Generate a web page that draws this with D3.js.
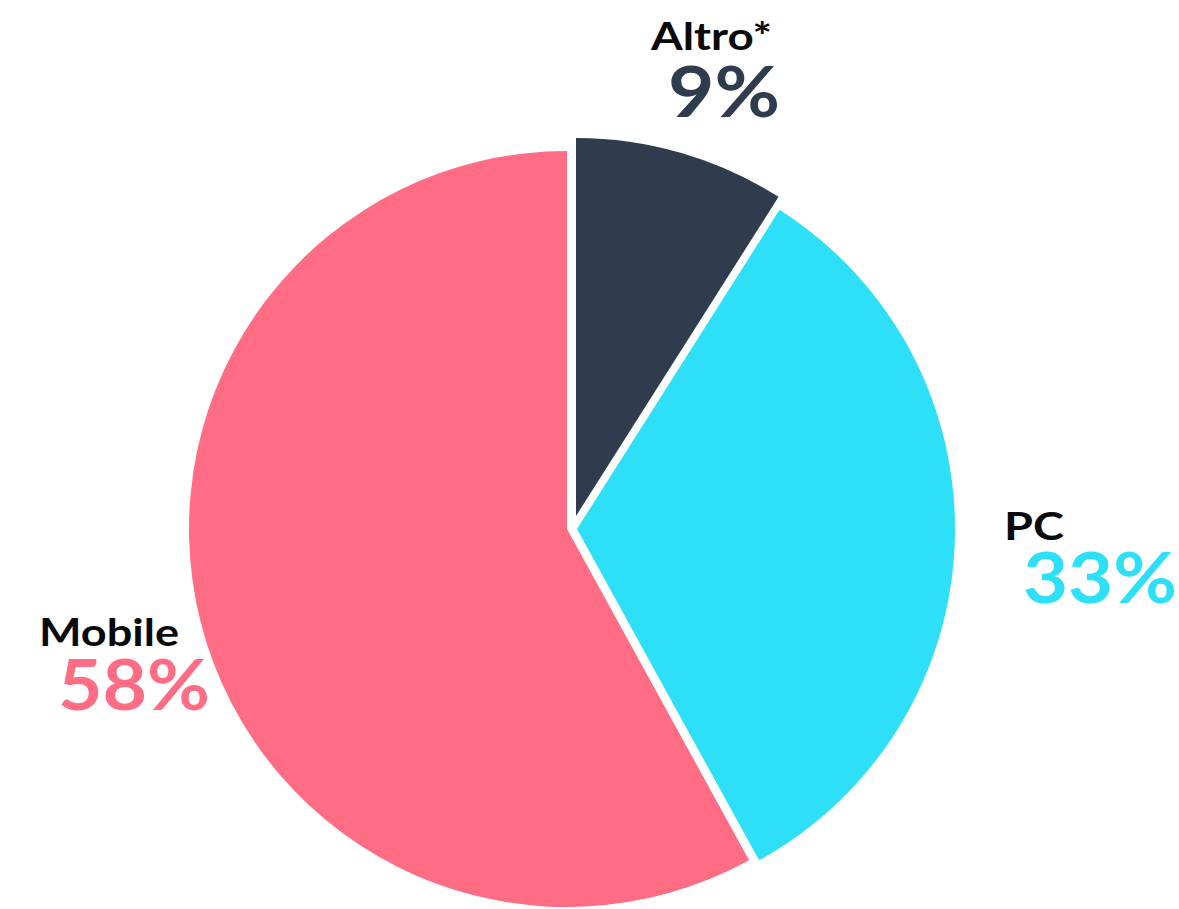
<!DOCTYPE html>
<html>
<head>
<meta charset="utf-8">
<script src="https://cdn.jsdelivr.net/npm/d3@7"></script>
<style>
  html, body { margin: 0; padding: 0; background: #ffffff; }
  svg { display: block; }
</style>
</head>
<body>
<svg id="chart" width="1179" height="909"></svg>
<script>
// ---- data ----
const categories = ["Altro*", "PC", "Mobile"];
const shares = [9, 33, 58];
const shareLabels = ["9%", "33%", "58%"];

// ---- style / layout ----
const colors = { "Altro*": "#2e3c4d", "PC": "#2de0f8", "Mobile": "#ff6c84" };
const sliceShift = { "Altro*": [9, -13], "PC": [10, 0], "Mobile": [0, 0] };
const labelLayout = {
  "Altro*": { nameX: 651, nameY: 50, nameW: 121, pctX: 668, pctY: 117, pctW: 112 },
  "PC":     { nameX: 1004, nameY: 540, nameW: 60, pctX: 1023, pctY: 603, pctW: 154 },
  "Mobile": { nameX: 39, nameY: 646, nameW: 140, pctX: 58, pctY: 710, pctW: 152 }
};
const cx = 567, cy = 529, radius = 378;

const svg = d3.select("#chart");
const data = categories.map((c, i) => ({ cat: c, value: shares[i], label: shareLabels[i] }));

const pie = d3.pie().sort(null).value(d => d.value).startAngle(0).endAngle(2 * Math.PI);
const arc = d3.arc().innerRadius(0).outerRadius(radius);

const g = svg.append("g").attr("transform", `translate(${cx},${cy})`);
g.selectAll("path.slice")
  .data(pie(data))
  .join("path")
  .attr("class", "slice")
  .attr("d", arc)
  .attr("fill", d => colors[d.data.cat])
  .attr("transform", d => `translate(${sliceShift[d.data.cat][0]},${sliceShift[d.data.cat][1]})`);

const font = "Lato, 'Open Sans', sans-serif";
const labels = svg.append("g");
data.forEach(d => {
  const L = labelLayout[d.cat];
  labels.append("text")
    .attr("x", L.nameX).attr("y", L.nameY)
    .attr("font-family", font)
    .attr("font-weight", 700)
    .attr("font-size", 38)
    .attr("textLength", L.nameW)
    .attr("lengthAdjust", "spacingAndGlyphs")
    .attr("fill", "#0a0a0a")
    .text(d.cat);
  labels.append("text")
    .attr("x", L.pctX).attr("y", L.pctY)
    .attr("font-family", font)
    .attr("font-weight", 700)
    .attr("font-size", 71)
    .attr("textLength", L.pctW)
    .attr("lengthAdjust", "spacingAndGlyphs")
    .attr("fill", colors[d.cat])
    .text(d.label);
});
</script>
</body>
</html>
